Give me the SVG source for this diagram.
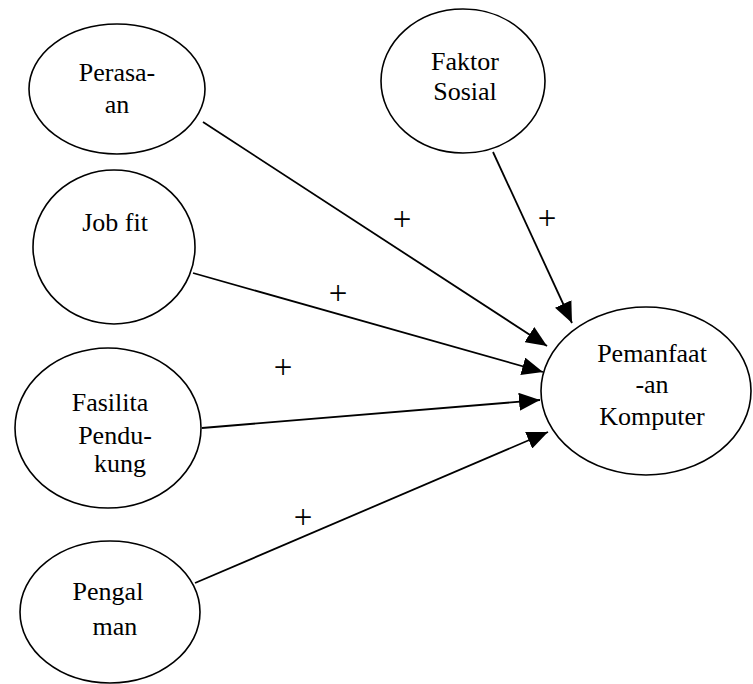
<svg xmlns="http://www.w3.org/2000/svg" width="753" height="684" viewBox="0 0 753 684">
<style>
.node{fill:#fff;stroke:#000;stroke-width:1.6}
.lbl{font-family:'Liberation Serif','DejaVu Serif',serif;font-size:26px;fill:#000;text-anchor:middle}
.plus{font-family:'Liberation Serif','DejaVu Serif',serif;font-size:33px;fill:#000;text-anchor:middle}
.edge{stroke:#000;stroke-width:1.8;fill:none;marker-end:url(#arr)}
</style>
<defs>
<marker id="arr" markerUnits="userSpaceOnUse" markerWidth="22" markerHeight="18" refX="21" refY="9" orient="auto">
<path d="M0,0 L21,9 L0,18 z" fill="#000"/>
</marker>
</defs>
<rect width="753" height="684" fill="#fff"/>
<g id="connectors">
<line class="edge" x1="493" y1="152" x2="572" y2="323"/>
<line class="edge" x1="203" y1="122" x2="547" y2="346"/>
<line class="edge" x1="193" y1="273" x2="543" y2="372"/>
<line class="edge" x1="202" y1="428" x2="540" y2="400"/>
<line class="edge" x1="195" y1="583" x2="548" y2="432"/>
</g>
<g id="labels">
<text class="plus" x="402" y="230">+</text>
<text class="plus" x="547" y="229">+</text>
<text class="plus" x="338" y="304">+</text>
<text class="plus" x="283" y="378">+</text>
<text class="plus" x="303" y="528">+</text>
</g>
<g id="perasaan">
<ellipse class="node" cx="117" cy="89" rx="88" ry="65"/>
<text class="lbl" x="117" y="81">Perasa-</text>
<text class="lbl" x="117" y="113">an</text>
</g>
<g id="faktor-sosial">
<ellipse class="node" cx="463" cy="81" rx="82" ry="72"/>
<text class="lbl" x="465" y="70">Faktor</text>
<text class="lbl" x="465" y="100">Sosial</text>
</g>
<g id="job-fit">
<ellipse class="node" cx="114" cy="247" rx="81" ry="77"/>
<text class="lbl" x="115" y="231">Job fit</text>
</g>
<g id="fasilitas">
<ellipse class="node" cx="108" cy="428" rx="93" ry="80"/>
<text class="lbl" x="110" y="411">Fasilita</text>
<text class="lbl" x="115" y="444">Pendu-</text>
<text class="lbl" x="120" y="472">kung</text>
</g>
<g id="pengalaman">
<ellipse class="node" cx="110" cy="612" rx="90" ry="71"/>
<text class="lbl" x="108" y="600">Pengal</text>
<text class="lbl" x="115" y="635">man</text>
</g>
<g id="pemanfaatan">
<ellipse class="node" cx="646" cy="391" rx="105" ry="84"/>
<text class="lbl" x="652" y="362">Pemanfaat</text>
<text class="lbl" x="652" y="393">-an</text>
<text class="lbl" x="652" y="425">Komputer</text>
</g>
</svg>
